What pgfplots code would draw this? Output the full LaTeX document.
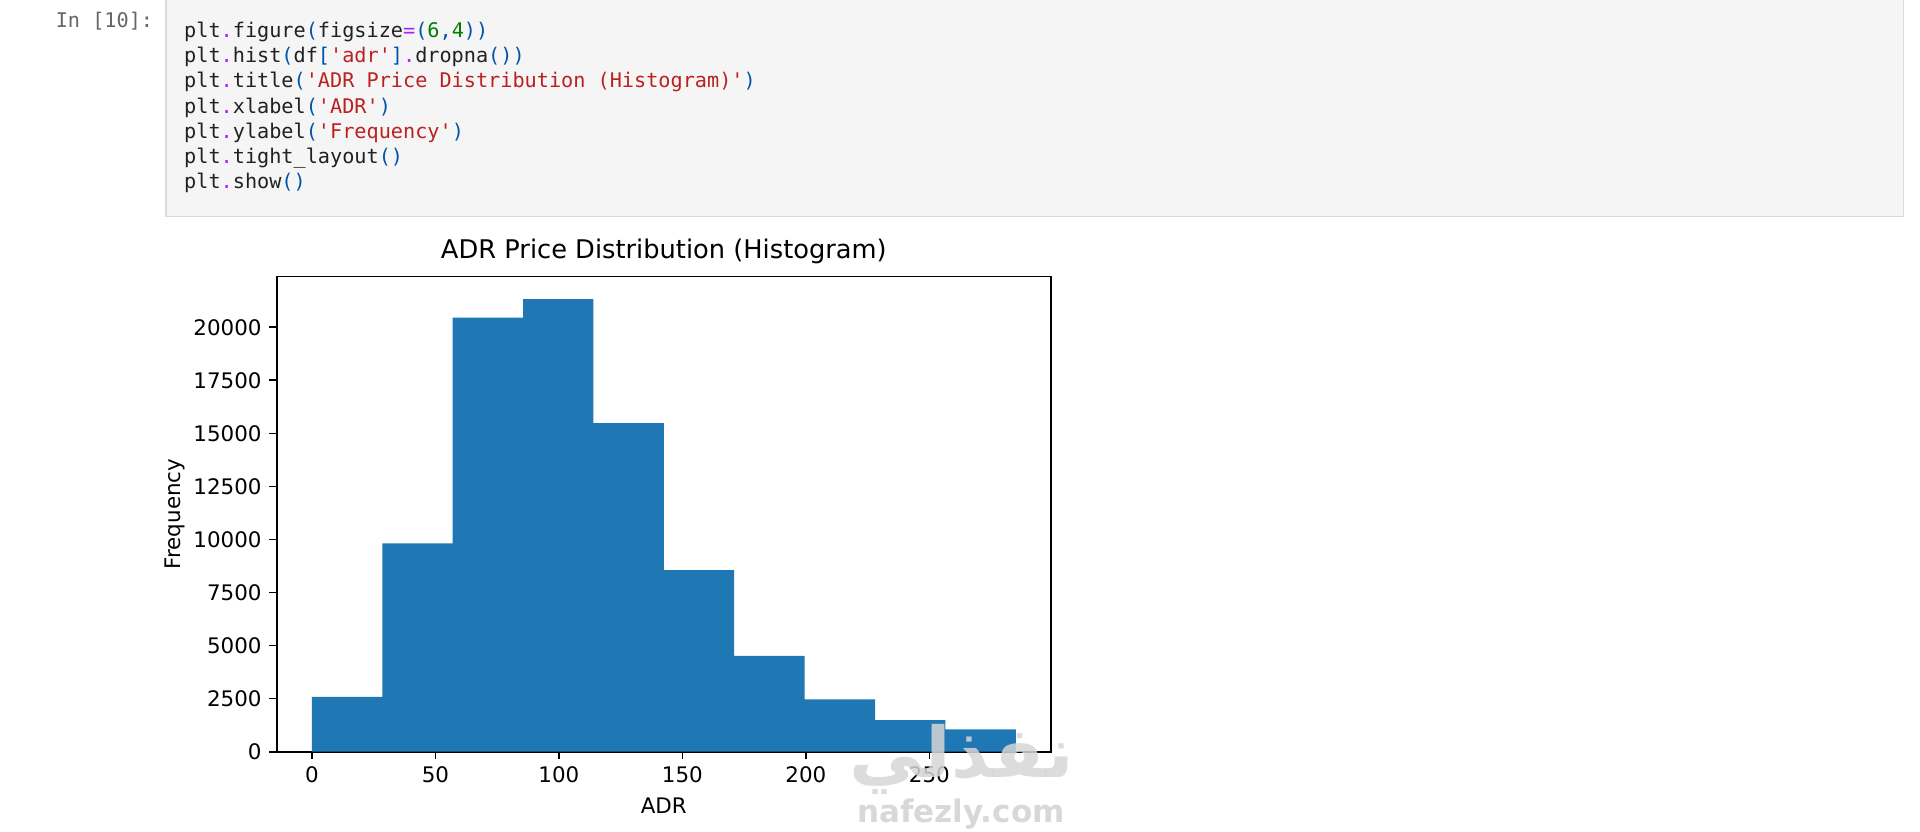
\documentclass[border=0pt]{standalone}
\usepackage{fontspec}
\setmainfont{DejaVu Sans}
\setmonofont{DejaVu Sans Mono}
\newfontfamily\arabicfont[Script=Arabic]{DejaVu Sans}
\TeXXeTstate=1
\usepackage{pgfplots}
\pgfplotsset{compat=1.18}
\definecolor{barc}{HTML}{1F77B4}
\definecolor{cellbg}{HTML}{F5F5F5}
\definecolor{cellbd}{HTML}{DADADA}
\definecolor{promptc}{HTML}{666666}
\definecolor{codec}{HTML}{212121}
\definecolor{opc}{HTML}{AA22FF}
\definecolor{brc}{HTML}{0055AA}
\definecolor{numc}{HTML}{008000}
\definecolor{strc}{HTML}{BA2121}
\definecolor{wmc}{HTML}{D6D6D6}
\newcommand{\op}[1]{\textcolor{opc}{#1}}
\newcommand{\br}[1]{\textcolor{brc}{#1}}
\newcommand{\nm}[1]{\textcolor{numc}{#1}}
\newcommand{\st}[1]{\textcolor{strc}{#1}}
\newcommand{\codefont}{\ttfamily\fontsize{20.2}{25.2}\selectfont}
\begin{document}
\begin{tikzpicture}[x=1pt,y=1pt]
\useasboundingbox[fill=white] (0,0) rectangle (1920,832);
% notebook code cell
\draw[cellbd, fill=cellbg, line width=1.2pt] (166,615.3) rectangle (1903.3,840);
\node[anchor=base east, inner sep=0pt, font=\codefont, text=promptc] at (153.3,804.5) {In [10]:};
\begin{scope}[every node/.style={anchor=base west, inner sep=0pt, font=\codefont, text=codec}]
\node at (184,794.5) {plt\op{.}figure\br{(}figsize\op{=}\br{(}\nm{6}\br{,}\nm{4}\br{))}};
\node at (184,769.3) {plt\op{.}hist\br{(}df\br{[}\st{'adr'}\br{]}\op{.}dropna\br{())}};
\node at (184,744.1) {plt\op{.}title\br{(}\st{'ADR Price Distribution (Histogram)'}\br{)}};
\node at (184,718.9) {plt\op{.}xlabel\br{(}\st{'ADR'}\br{)}};
\node at (184,693.7) {plt\op{.}ylabel\br{(}\st{'Frequency'}\br{)}};
\node at (184,668.5) {plt\op{.}tight\_layout\br{()}};
\node at (184,643.3) {plt\op{.}show\br{()}};
\end{scope}
\begin{axis}[
  at={(276.7pt,80.3pt)}, anchor=south west,
  scale only axis, width=774.3pt, height=475.3pt,
  xmin=-14.25, xmax=299.25, ymin=0, ymax=22396,
  xtick={0,50,100,150,200,250},
  ytick={0,2500,5000,7500,10000,12500,15000,17500,20000},
  scaled ticks=false,
  /pgf/number format/1000 sep={},
  /pgf/number format/assume math mode=true,
  tick pos=left, tick align=outside,
  major tick length=7.5pt,
  axis line style={line width=1.7pt, black},
  every tick/.style={line width=1.7pt, black},
  tick label style={font=\fontsize{21.4}{25}\selectfont, inner sep=0pt},
  yticklabel style={xshift=-7.5pt},
  xticklabel style={yshift=-7.5pt},
  title={ADR Price Distribution (Histogram)},
  title style={font=\fontsize{25.7}{30}\selectfont, at={(axis description cs:0.5,1.0254)}, anchor=base, inner sep=0pt},
  xlabel={ADR},
  xlabel style={font=\fontsize{21.4}{25}\selectfont, at={(axis description cs:0.5,-0.1294)}, anchor=base, inner sep=0pt},
  ylabel={Frequency},
  ylabel style={font=\fontsize{21.4}{25}\selectfont, at={(axis description cs:-0.124,0.5)}, anchor=base, inner sep=0pt},
]
\addplot[ybar interval, fill=barc, draw=none] coordinates {
  (0,2580) (28.5,9820) (57,20450) (85.5,21330) (114,15480)
  (142.5,8560) (171,4520) (199.5,2460) (228,1490) (256.5,1050) (285,1050)
};
\end{axis}
% watermark (semi-transparent logo over the plot, as in the screenshot)
\node[inner sep=0pt, text=wmc, opacity=0.85, xscale=1.47, yscale=1.4, font=\arabicfont\bfseries\fontsize{50}{60}\selectfont] at (962,73) {\beginR نفذلي\endR};
\node[anchor=base, inner sep=0pt, text=wmc, opacity=0.95, font=\bfseries\fontsize{31}{38}\selectfont] at (961,9) {nafezly.com};
\end{tikzpicture}
\end{document}
